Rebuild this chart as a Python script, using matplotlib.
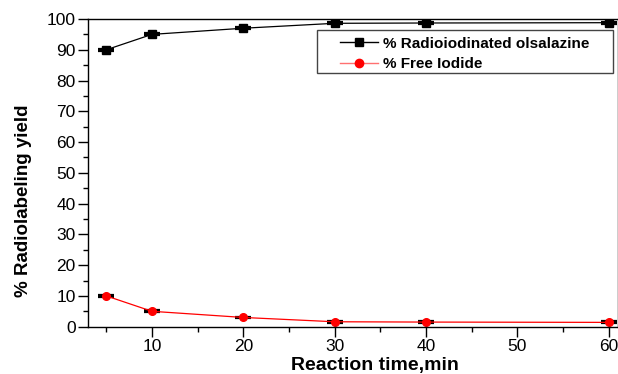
import matplotlib
matplotlib.use("Agg")
import matplotlib.pyplot as plt
from matplotlib.ticker import MultipleLocator
from matplotlib.lines import Line2D
from matplotlib.patches import Rectangle

time_min = [5, 10, 20, 30, 40, 60]
radioiodinated = [90.0, 95.0, 97.0, 98.6, 98.7, 98.8]
free_iodide = [10.0, 5.0, 3.0, 1.6, 1.5, 1.4]
err_rad = [0.3, 0.3, 0.3, 0.3, 0.3, 0.3]
err_free = [0.3, 0.3, 0.3, 0.3, 0.3, 0.3]
labels = ['% Radioiodinated olsalazine', '% Free Iodide']

plt.rcParams['font.family'] = ['Liberation Sans', 'DejaVu Sans']

fig = plt.figure(figsize=(6.18, 3.74), dpi=100)
ax = fig.add_axes([0.1424, 0.1265, 0.8576, 0.8227])

ax.errorbar(time_min, radioiodinated, yerr=err_rad, color='black', lw=0.9,
            marker='s', ms=5.5, mfc='black', mec='black',
            ecolor='black', elinewidth=1.2, capsize=5.5, capthick=1.6)
ax.errorbar(time_min, free_iodide, yerr=err_free, color='red', lw=0.9,
            marker='o', ms=5.5, mfc='red', mec='red',
            ecolor='black', elinewidth=1.2, capsize=5.5, capthick=1.6)

ax.set_xlim(3.0, 61.0)
ax.set_ylim(0, 100)
ax.xaxis.set_minor_locator(MultipleLocator(5))
ax.yaxis.set_major_locator(MultipleLocator(10))
ax.yaxis.set_minor_locator(MultipleLocator(5))
ax.set_xticks([10, 20, 30, 40, 50, 60])
ax.tick_params(axis='both', which='major', direction='out', length=7, width=1,
               labelsize=12.5, top=False, right=False, pad=2)
ax.tick_params(axis='both', which='minor', direction='out', length=3.5, width=1,
               top=False, right=False)
for s in ax.spines.values():
    s.set_linewidth(1.0)

ax.set_xlabel('Reaction time,min', fontsize=14, fontweight='bold')
ax.set_ylabel('% Radiolabeling yield', fontsize=13.5, fontweight='bold')
ax.xaxis.set_label_coords(0.5415, -0.097)
ax.yaxis.set_label_coords(-0.106, 0.41)

handles = [
    Line2D([], [], color='black', lw=1.0, marker='s', ms=5.5, mfc='black', mec='black'),
    Line2D([], [], color='#ff7070', lw=1.0, marker='o', ms=6, mfc='red', mec='red'),
]
leg = ax.legend(handles, labels, loc='upper left', bbox_to_anchor=(0.4755, 0.943),
                prop={'weight': 'bold', 'size': 11}, frameon=False,
                borderpad=0, handlelength=2.5, handletextpad=0.33,
                labelspacing=0.42, borderaxespad=0)
ax.add_patch(Rectangle((0.432, 0.8245), 0.5586, 0.1398, transform=ax.transAxes,
                       fill=False, edgecolor='#444444', lw=1.0, zorder=4))

fig.savefig('out.png', dpi=100)
